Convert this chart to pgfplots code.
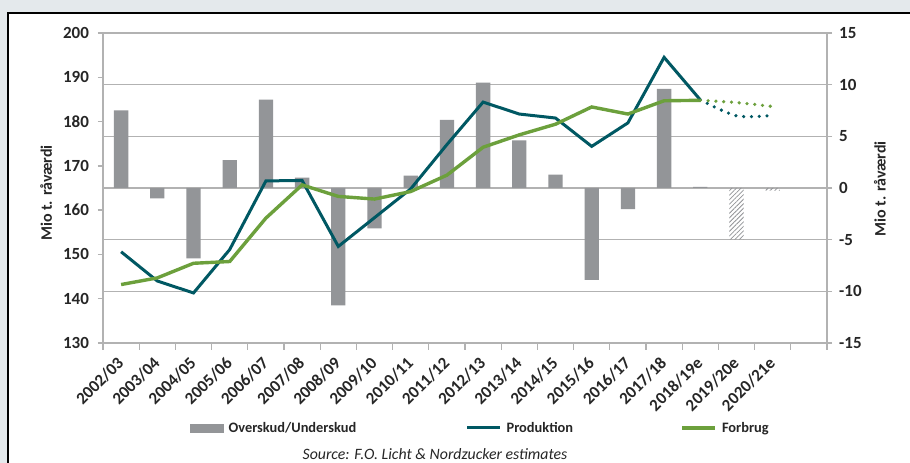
\documentclass[border=0pt]{standalone}
\usepackage{fontspec}
\setmainfont{Carlito}
\usepackage{pgfplots}
\pgfplotsset{compat=1.18}
\usetikzlibrary{patterns.meta}
\definecolor{barg}{RGB}{147,149,152}
\definecolor{teal2}{RGB}{0,88,99}
\definecolor{grn}{RGB}{108,160,60}
\definecolor{gridg}{RGB}{178,178,178}
\definecolor{bgc}{RGB}{228,233,236}
\definecolor{txt}{RGB}{38,38,38}
\begin{document}
\begin{tikzpicture}[x=1pt,y=1pt]
\useasboundingbox (0,0) rectangle (910,463);
\fill[bgc] (0,0) rectangle (910,463);
\draw[line width=1.6pt, fill=white] (8,450) rectangle (925,-10);

% ---- secondary (right) axis: surplus / deficit bars ----
\begin{axis}[
  at={(103pt,120pt)}, anchor=south west, scale only axis,
  width=724pt, height=310pt,
  xmin=0.5, xmax=20.5, ymin=-15, ymax=15,
  hide x axis,
  axis y line*=right,
  y axis line style={gridg, line width=1.3pt},
  ytick={-15,-10,-5,0,5,10,15},
  yticklabels={-15,-10,-5,0,5,10,15},
  ymajorgrids, major grid style={gridg, line width=1.3pt},
  tick align=outside, major tick length=5pt,
  every tick/.style={gridg, line width=1.3pt},
  yticklabel style={font=\fontsize{17}{19}\selectfont\bfseries, text=txt, xshift=3.7pt},
  every axis y label/.style={at={(axis description cs:1.0732,0.497)}, anchor=center, rotate=90},
  ylabel={\fontsize{16}{19}\selectfont\bfseries\color{txt}Mio t. råværdi},
]
\addplot[ybar, bar width=14.3pt, bar shift=0pt, fill=barg, draw=none] coordinates {
 (1,7.5) (2,-1.0) (3,-6.8) (4,2.7) (5,8.55) (6,1.0) (7,-11.35) (8,-3.9)
 (9,1.2) (10,6.6) (11,10.2) (12,4.6) (13,1.3) (14,-8.9) (15,-2.05)
 (16,9.6) (17,0.12)};
\addplot[ybar, bar width=14.3pt, bar shift=0pt, draw=none,
  pattern={Lines[angle=45, distance=3.2pt, line width=0.8pt]}, pattern color=barg] coordinates {
 (18,-5.0) (19,-0.25)};
\end{axis}

% ---- primary (left) axis: production and consumption ----
\begin{axis}[
  at={(103pt,120pt)}, anchor=south west, scale only axis,
  width=724pt, height=310pt,
  xmin=0.5, xmax=20.5, ymin=130, ymax=200,
  axis y line*=left, axis x line*=bottom,
  axis line style={gridg, line width=1.3pt},
  ytick={130,140,150,160,170,180,190,200},
  yticklabels={130,140,150,160,170,180,190,200},
  xtick={1,...,19},
  xticklabels={2002/03,2003/04,2004/05,2005/06,2006/07,2007/08,2008/09,2009/10,2010/11,2011/12,2012/13,2013/14,2014/15,2015/16,2016/17,2017/18,2018/19e,2019/20e,2020/21e},
  minor xtick={0.5,1.5,...,20.5},
  tick align=outside, major tick length=5pt, minor tick length=7pt,
  every tick/.style={gridg, line width=1.3pt},
  major x tick style={draw=none},
  yticklabel style={font=\fontsize{17}{19}\selectfont\bfseries, text=txt, xshift=-5.5pt},
  xticklabel style={font=\fontsize{17}{19}\selectfont\bfseries, text=txt, xshift=2pt, yshift=-9.8pt, rotate=45, anchor=east},
  every axis y label/.style={at={(axis description cs:-0.0787,0.484)}, anchor=center, rotate=90},
  ylabel={\fontsize{16}{19}\selectfont\bfseries\color{txt}Mio t. råværdi},
  legend style={at={(0.1202,-0.274)}, anchor=west, draw=none, fill=none,
    legend columns=3, column sep=0pt, inner sep=0pt,
    nodes={inner sep=0pt, font=\fontsize{14.4}{17}\selectfont\bfseries, text=txt}},
  legend cell align=left,
]
\addlegendimage{legend image code/.code={\fill[barg] (0pt,-4pt) rectangle (33pt,4pt); \path (38pt,0pt);}}
\addlegendentry{\makebox[237pt][l]{Overskud/Underskud}}
\addplot[teal2, line width=3pt,
  legend image code/.code={\draw[teal2, line width=3pt] (0pt,0pt) -- (33pt,0pt); \path (38pt,0pt);}]
 coordinates {
 (1,150.6) (2,144.0) (3,141.3) (4,151.1) (5,166.6) (6,166.7) (7,151.8) (8,158.3)
 (9,164.8) (10,174.8) (11,184.4) (12,181.7) (13,180.8) (14,174.4) (15,179.7)
 (16,194.5) (17,184.9)};
\addlegendentry{\makebox[174pt][l]{Produktion}}
\addplot[grn, line width=3.4pt,
  legend image code/.code={\draw[grn, line width=3.4pt] (0pt,0pt) -- (33pt,0pt); \path (38pt,0pt);}]
 coordinates {
 (1,143.2) (2,144.7) (3,148.0) (4,148.4) (5,158.2) (6,165.7) (7,163.1) (8,162.5)
 (9,164.2) (10,167.9) (11,174.2) (12,177.0) (13,179.4) (14,183.3) (15,181.7)
 (16,184.7) (17,184.8)};
\addlegendentry{Forbrug}
\addplot[teal2, line width=3.6pt, line cap=round, dash pattern=on 0pt off 7.8pt, smooth, forget plot]
 coordinates {(17,184.9) (18,181.3) (19,181.4)};
\addplot[grn, line width=3.6pt, line cap=round, dash pattern=on 0pt off 7.8pt, smooth, forget plot]
 coordinates {(17,184.8) (18,184.3) (19,183.4)};
\end{axis}

\node[font=\fontsize{15.8}{18}\selectfont\itshape, text=txt, anchor=base] at (435,3) {Source: F.O. Licht \& Nordzucker estimates};
\end{tikzpicture}
\end{document}
